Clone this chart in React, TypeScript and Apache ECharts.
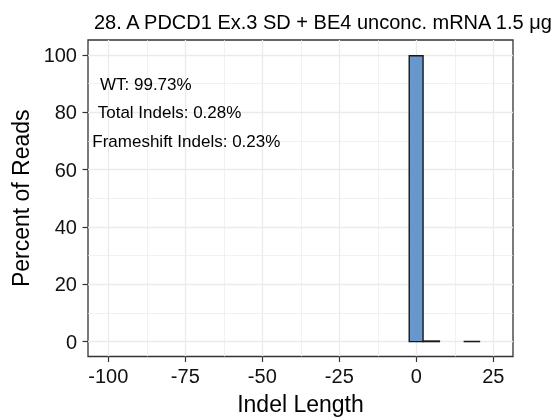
import React, { useEffect, useRef } from "react";
import * as echarts from "echarts";

const binStart = [-2.3, 2.2, 15.6];
const binEnd = [2.2, 7.5, 20.5];
const percent = [99.73, 0.2, 0.05];

const xTicks = [-100, -75, -50, -25, 0, 25];
const xMinor = [-87.5, -62.5, -37.5, -12.5, 12.5];
const yTicks = [0, 20, 40, 60, 80, 100];
const yMinor = [10, 30, 50, 70, 90];

const annotations = ["WT: 99.73%", "Total Indels: 0.28%", "Frameshift Indels: 0.23%"];

const title = "28. A PDCD1 Ex.3 SD + BE4 unconc. mRNA 1.5 μg";

const FONT = "Liberation Sans, Arial, Helvetica, sans-serif";

export default function App() {
  const ref = useRef<HTMLDivElement>(null);
  useEffect(() => {
    if (!ref.current) return;
    const chart = echarts.init(ref.current, null, { renderer: "svg" });
    const data = binStart.map((s, i) => [s, binEnd[i], percent[i]]);
    const xMin = -106.6, xMax = 31.4, yMin = -5.2, yMax = 105.2;
    const gridLine = { color: "#ebebeb", width: 1.3 };
    const minorLine = { color: "#ebebeb", width: 0.7 };
    const annStyle = { fontSize: 17, fill: "#000", fontFamily: FONT, align: "left", verticalAlign: "middle" };
    chart.setOption({
      animation: false,
      textStyle: { fontFamily: FONT },
      title: {
        text: title,
        left: 89,
        top: 7,
        textStyle: { fontSize: 20, fontWeight: "normal", color: "#000", fontFamily: FONT },
      },
      grid: {
        left: 88,
        right: 46,
        top: 40,
        bottom: 62,
        show: true,
        borderColor: "#333",
        borderWidth: 1.3,
        backgroundColor: "transparent",
      },
      xAxis: [
        {
          type: "value",
          min: xMin,
          max: xMax,
          axisLine: { show: false, onZero: false },
          axisTick: { show: true, length: 5.5, customValues: xTicks, lineStyle: { color: "#333", width: 1.2 } },
          axisLabel: { customValues: xTicks, fontSize: 20, color: "#111", margin: 9.5, fontFamily: FONT },
          splitLine: { show: true, lineStyle: gridLine },
          name: "Indel Length",
          nameLocation: "middle",
          nameGap: 35.5,
          nameTextStyle: { fontSize: 23, color: "#000", fontFamily: FONT },
        },
        {
          type: "value",
          min: xMin,
          max: xMax,
          axisLine: { show: false, onZero: false },
          axisTick: { show: false, customValues: xMinor },
          axisLabel: { show: false, customValues: xMinor },
          splitLine: { show: true, lineStyle: minorLine },
        },
      ],
      yAxis: [
        {
          type: "value",
          min: yMin,
          max: yMax,
          axisLine: { show: false, onZero: false },
          axisTick: { show: true, length: 5.5, customValues: yTicks, lineStyle: { color: "#333", width: 1.2 } },
          axisLabel: { customValues: yTicks, fontSize: 20, color: "#111", margin: 11, fontFamily: FONT },
          splitLine: { show: true, lineStyle: gridLine },
          name: "Percent of Reads",
          nameLocation: "middle",
          nameGap: 54,
          nameTextStyle: { fontSize: 23, color: "#000", fontFamily: FONT },
        },
        {
          type: "value",
          min: yMin,
          max: yMax,
          axisLine: { show: false, onZero: false },
          axisTick: { show: false, customValues: yMinor },
          axisLabel: { show: false, customValues: yMinor },
          splitLine: { show: true, lineStyle: minorLine },
        },
      ],
      graphic: [
        { type: "text", z: 100, x: 100, y: 84, style: { text: annotations[0], ...annStyle } },
        { type: "text", z: 100, x: 97.7, y: 112.5, style: { text: annotations[1], ...annStyle } },
        { type: "text", z: 100, x: 92.3, y: 141, style: { text: annotations[2], ...annStyle } },
      ],
      series: [
        {
          type: "custom",
          xAxisIndex: 0,
          yAxisIndex: 0,
          data,
          encode: { x: [0, 1], y: 2 },
          renderItem: (params: any, api: any) => {
            const tl = api.coord([api.value(0), api.value(2)]);
            const br = api.coord([api.value(1), 0]);
            return {
              type: "rect",
              shape: { x: tl[0], y: tl[1], width: br[0] - tl[0], height: br[1] - tl[1] },
              style: { fill: "#6797cb", stroke: "#1a1a1a", lineWidth: 1.4 },
            };
          },
          z: 5,
        },
      ],
    });
    return () => chart.dispose();
  }, []);
  return <div ref={ref} style={{ width: 559, height: 420, position: "fixed", left: 0, top: 0 }} />;
}
